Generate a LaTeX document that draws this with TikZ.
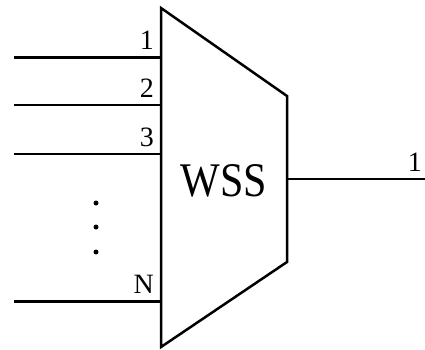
\documentclass[tikz,border=0pt]{standalone}
\usepackage{graphicx}
\usepackage{fontspec}
\setmainfont{Liberation Serif}
\begin{document}
\begin{tikzpicture}[x=1pt,y=-1pt,
  box/.style={line width=2.5pt, line join=miter},
  portlabel/.style={font=\fontsize{28}{30}\selectfont, inner sep=0pt},
  dotmark/.style={fill=black}]
  \useasboundingbox (0,0) rectangle (425,349);
  % switch body corners
  \coordinate (tl) at (161,8);
  \coordinate (tr) at (287,96);
  \coordinate (br) at (287,262);
  \coordinate (bl) at (161,347);
  \draw[box] (tl) -- (tr) -- (br) -- (bl) -- cycle;
  \node[font=\fontsize{42}{46}\selectfont, inner sep=0pt] (wss) at (224,181)
    {\scalebox{1}[1.15]{WSS}};
  % input ports
  \foreach \n/\y/\w in {1/57/3pt, 2/105/2.6pt, 3/154/2.6pt, N/301/3pt}{
    \coordinate (in\n) at (161,\y);
    \coordinate (src\n) at (14,\y);
    \draw[line width=\w] (src\n) -- (in\n);
    \node[portlabel, anchor=base east] (lab\n) at (154,\y-8) {\n};
  }
  % output port
  \coordinate (out) at (287,179);
  \coordinate (sink) at (425,179);
  \draw[line width=2.2pt] (out) -- (sink);
  \node[portlabel, anchor=base east] (labout) at (422,171) {1};
  % vertical ellipsis
  \foreach \y in {203,227,252}
    \fill[dotmark] (96,\y) circle (2.5pt);
\end{tikzpicture}
\end{document}
